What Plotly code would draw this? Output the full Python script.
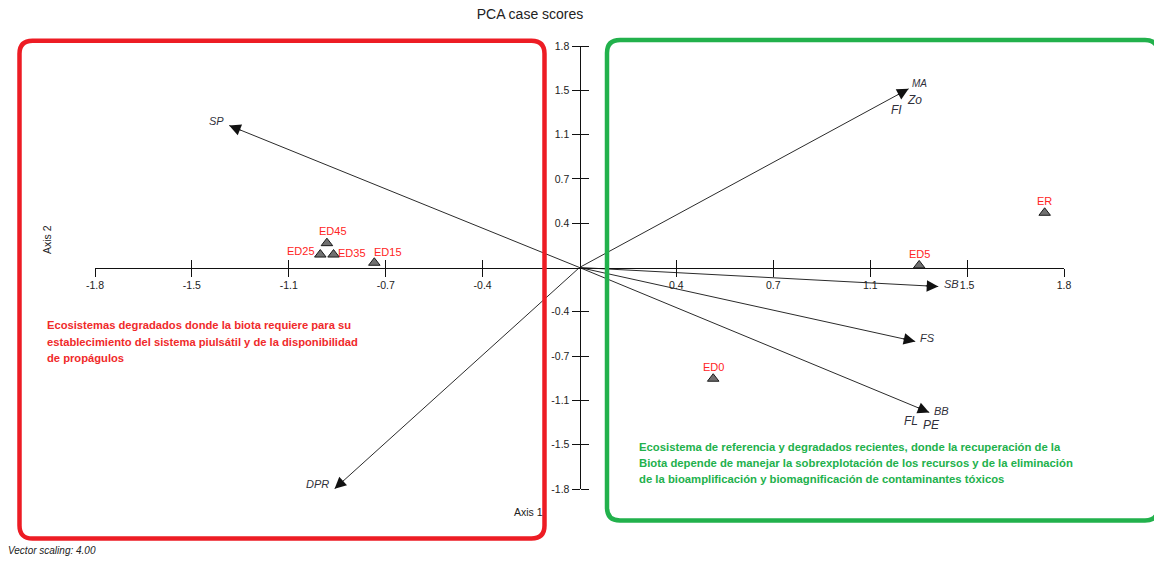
import math
import plotly.graph_objects as go

# ---- case scores (PCA axis 1, axis 2) ----
case_names = ["ED45", "ED25", "ED35", "ED15", "ED5", "ER", "ED0"]
case_x = [-0.954, -0.979, -0.929, -0.775, 1.283, 1.757, 0.505]
case_y = [0.201, 0.107, 0.107, 0.039, 0.017, 0.452, -0.919]

# ---- variable vectors (scaled loadings) ----
vec_names = ["SP", "MA / Zo / FI", "SB", "FS", "BB / FL / PE", "DPR"]
vec_x = [-1.323, 1.243, 1.355, 1.268, 1.321, -0.925]
vec_y = [1.173, 1.476, -0.157, -0.611, -1.197, -1.828]

# ---- labels printed at each vector tip ----
vec_label_text = ["SP", "MA", "Zo", "FI", "SB", "FS", "BB", "FL", "PE", "DPR"]
vec_label_of = [0, 1, 1, 1, 2, 3, 4, 4, 4, 5]

# ---- axis ticks ----
tick_vals = [-1.83, -1.464, -1.098, -0.732, -0.366, 0.366, 0.732, 1.098, 1.464, 1.83]
tick_text = ["-1.8", "-1.5", "-1.1", "-0.7", "-0.4", "0.4", "0.7", "1.1", "1.5", "1.8"]
axis_lim = 1.83

# ---- group descriptions ----
red_lines = ["Ecosistemas degradados donde la biota requiere para su",
             "establecimiento del sistema piulsátil y de la disponibilidad",
             "de propágulos"]
green_lines = ["Ecosistema de referencia y degradados recientes, donde la recuperación de la",
               "Biota depende de manejar la sobrexplotación de los recursos y de la eliminación",
               "de la bioamplificación y biomagnificación de contaminantes tóxicos"]

W, H = 1154, 565
ML, MR, MT, MB = 95, 90, 46, 76
PW, PH = W - ML - MR, H - MT - MB
px_per_x = PW / (2 * axis_lim)
px_per_y = PH / (2 * axis_lim)

BASE_FONT = "Liberation Sans, Arial, sans-serif"


def to_paper(px, py):
    return (px - ML) / PW, (H - MB - py) / PH


def rounded_path(x0, y0, x1, y1, r):
    pts = [
        ("M", [(x0 + r, y0)]),
        ("L", [(x1 - r, y0)]),
        ("Q", [(x1, y0), (x1, y0 + r)]),
        ("L", [(x1, y1 - r)]),
        ("Q", [(x1, y1), (x1 - r, y1)]),
        ("L", [(x0 + r, y1)]),
        ("Q", [(x0, y1), (x0, y1 - r)]),
        ("L", [(x0, y0 + r)]),
        ("Q", [(x0, y0), (x0 + r, y0)]),
    ]
    out = []
    for cmd, plist in pts:
        coords = []
        for (px, py) in plist:
            a, b = to_paper(px, py)
            coords.append(f"{a:.5f},{b:.5f}")
        out.append(cmd + " ".join(coords))
    return " ".join(out) + " Z"


fig = go.Figure()

# vector shafts
lx, ly = [], []
for vx, vy in zip(vec_x, vec_y):
    lx += [0, vx, None]
    ly += [0, vy, None]
fig.add_trace(go.Scatter(x=lx, y=ly, mode="lines",
                         line=dict(color="#2b2b2b", width=1),
                         hoverinfo="skip", showlegend=False, cliponaxis=False))

# case points
fig.add_trace(go.Scatter(x=case_x, y=case_y, mode="markers",
                         marker=dict(symbol="triangle-up", size=10, color="#707070",
                                     line=dict(color="#1a1a1a", width=1)),
                         text=case_names, hoverinfo="text", showlegend=False,
                         cliponaxis=False))

# empty trace carrying the mirrored tick axes
fig.add_trace(go.Scatter(x=[], y=[], xaxis="x2", yaxis="y2", showlegend=False))

annotations = []

# arrow heads at vector tips
for vx, vy in zip(vec_x, vec_y):
    dx, dy = vx * px_per_x, -vy * px_per_y
    n = math.hypot(dx, dy)
    annotations.append(dict(x=vx, y=vy, xref="x", yref="y", text="",
                            showarrow=True, arrowhead=2, arrowsize=2.3, arrowwidth=1,
                            arrowcolor="#111111", ax=-dx / n * 14, ay=-dy / n * 14,
                            standoff=0))

# vector labels (pixel offsets from the tip)
label_shift = [(-13, 5), (11, 5), (6, -11), (-12, -21), (13, 3), (12, 3),
               (12, 1), (-18, -9), (2, -13), (-17, 5)]
label_size = [11, 10, 12, 12, 11, 11, 11, 12, 12, 11]
for txt, vi, (sx, sy), fs in zip(vec_label_text, vec_label_of, label_shift, label_size):
    annotations.append(dict(x=vec_x[vi], y=vec_y[vi], xref="x", yref="y",
                            text=f"<i>{txt}</i>", showarrow=False,
                            xshift=sx, yshift=sy,
                            font=dict(family=BASE_FONT, size=fs, color="#30303a")))

# case labels
case_shift = [(6, 12), (-19, 4), (18, 2), (14, 11), (0, 11), (0, 12), (0, 12)]
for name, cx, cy, (sx, sy) in zip(case_names, case_x, case_y, case_shift):
    annotations.append(dict(x=cx, y=cy, xref="x", yref="y", text=name,
                            showarrow=False, xshift=sx, yshift=sy,
                            font=dict(family=BASE_FONT, size=11, color="#ff2424")))

# group descriptions, one annotation per line
for i, line in enumerate(red_lines):
    tx, ty = to_paper(45, 325 + i * 16.5)
    annotations.append(dict(x=tx, y=ty, xref="paper", yref="paper", xanchor="left",
                            yanchor="middle", showarrow=False, text=f"<b>{line}</b>",
                            font=dict(family=BASE_FONT, size=11.2, color="#f02a2a")))
for i, line in enumerate(green_lines):
    tx, ty = to_paper(637, 447 + i * 15.8)
    annotations.append(dict(x=tx, y=ty, xref="paper", yref="paper", xanchor="left",
                            yanchor="middle", showarrow=False, text=f"<b>{line}</b>",
                            font=dict(family=BASE_FONT, size=11.3, color="#22b14c")))

# axis names and footer
a2x, a2y = to_paper(39, 240)
annotations.append(dict(x=a2x, y=a2y, xref="paper", yref="paper", text="Axis 2",
                        textangle=-90, showarrow=False,
                        font=dict(family=BASE_FONT, size=10.5, color="#222222")))
a1x, a1y = to_paper(528, 519.5)
annotations.append(dict(x=a1x, y=a1y, xref="paper", yref="paper", text="Axis 1",
                        showarrow=False,
                        font=dict(family=BASE_FONT, size=10.5, color="#222222")))
vsx, vsy = to_paper(6, 557.5)
annotations.append(dict(x=vsx, y=vsy, xref="paper", yref="paper", xanchor="left",
                        text="<i>Vector scaling: 4.00</i>", showarrow=False,
                        font=dict(family=BASE_FONT, size=10, color="#222222")))

shapes = [
    dict(type="path", xref="paper", yref="paper", layer="above",
         path=rounded_path(19.5, 40.8, 544.5, 538.5, 13),
         line=dict(color="#ed1c24", width=4.5)),
    dict(type="path", xref="paper", yref="paper", layer="above",
         path=rounded_path(607, 40, 1158, 520.5, 13),
         line=dict(color="#22b14c", width=4.5)),
]

tick_font = dict(family=BASE_FONT, size=10.5, color="#222222")
common = dict(range=[-axis_lim, axis_lim], showgrid=False, zeroline=False,
              tickmode="array", tickvals=tick_vals, ticktext=tick_text,
              anchor="free", position=0.5, fixedrange=True)

fig.update_layout(
    width=W, height=H,
    margin=dict(l=ML, r=MR, t=MT, b=MB),
    paper_bgcolor="white", plot_bgcolor="white",
    title=dict(text="PCA case scores", x=530 / W, xref="container", xanchor="center",
               y=1 - 14 / H, yref="container", yanchor="middle",
               font=dict(family=BASE_FONT, size=14, color="#222222")),
    xaxis=dict(**common, showline=True, linecolor="#111111", linewidth=1,
               ticks="inside", ticklen=8, tickcolor="#111111", tickwidth=1,
               ticklabelstandoff=8, tickfont=tick_font),
    yaxis=dict(**common, showline=True, linecolor="#111111", linewidth=1,
               ticks="outside", ticklen=8, tickcolor="#111111", tickwidth=1,
               tickfont=tick_font),
    xaxis2=dict(**common, overlaying="x", showline=False, showticklabels=False,
                ticks="outside", ticklen=8, tickcolor="#111111", tickwidth=1),
    yaxis2=dict(**common, overlaying="y", side="right", showline=False,
                showticklabels=False, ticks="outside", ticklen=8,
                tickcolor="#111111", tickwidth=1),
    annotations=annotations,
    shapes=shapes,
    showlegend=False,
)

fig.write_html("out.html", config=dict(displayModeBar=False))
